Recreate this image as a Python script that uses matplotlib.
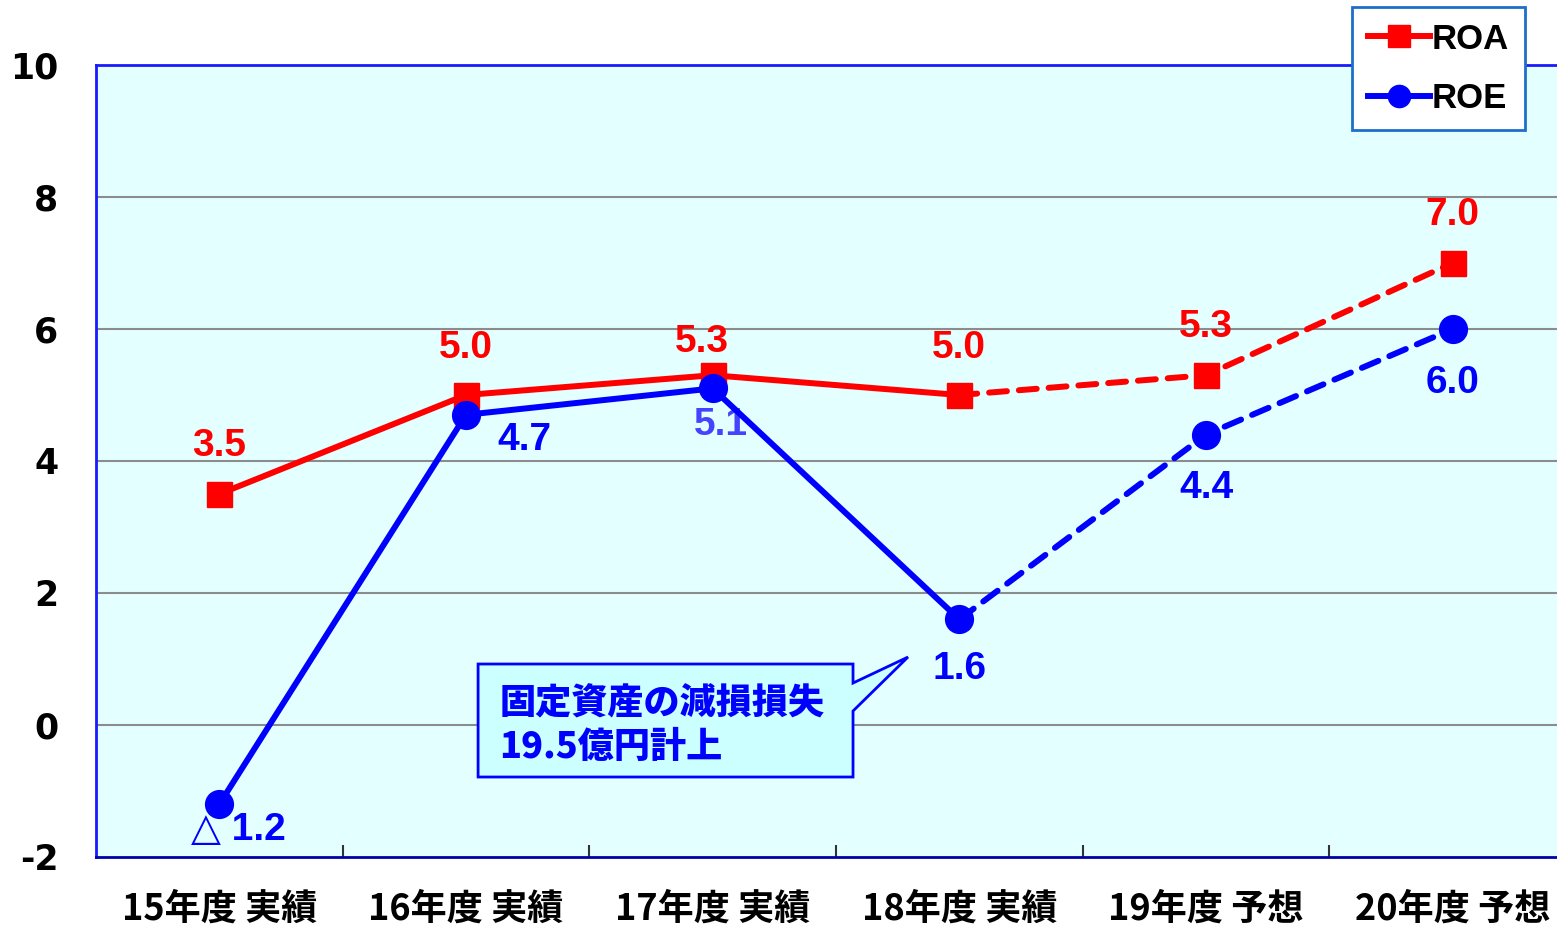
import matplotlib
matplotlib.use("Agg")
import matplotlib.pyplot as plt
from matplotlib.patches import Polygon

categories = ["15年度 実績", "16年度 実績", "17年度 実績", "18年度 実績", "19年度 予想", "20年度 予想"]
roa = [3.5, 5.0, 5.3, 5.0, 5.3, 7.0]
roe = [-1.2, 4.7, 5.1, 1.6, 4.4, 6.0]
roa_labels = ["3.5", "5.0", "5.3", "5.0", "5.3", "7.0"]
roe_labels = ["△ 1.2", "4.7", "5.1", "1.6", "4.4", "6.0"]
n_actual = 4  # 実績 points; the rest are 予想 (dashed)
note_lines = ["固定資産の減損損失", "19.5億円計上"]

RED = "#ff0000"
BLUE = "#0000ff"
NUM_FONT = ["Liberation Sans", "DejaVu Sans"]
JP_FONT = ["Noto Sans CJK JP", "DejaVu Sans"]

plt.rcParams["font.family"] = JP_FONT

fig = plt.figure(figsize=(15.57, 9.26), dpi=100)
ax = fig.add_axes([96 / 1557, 69 / 926, 1480 / 1557, 792 / 926])
ax.set_facecolor("#e3ffff")

x = list(range(len(categories)))
k = n_actual - 1

# solid = actual, dashed = forecast
ax.plot(x[:k + 1], roa[:k + 1], color=RED, lw=4.3, solid_capstyle="round", zorder=3)
ax.plot(x[k:], roa[k:], color=RED, lw=4.3, ls=(0, (3, 2)), dash_capstyle="round", zorder=3)
ax.plot(x, roa, ls="none", marker="s", ms=18, color=RED, zorder=4)

ax.plot(x[:k + 1], roe[:k + 1], color=BLUE, lw=4.3, solid_capstyle="round", zorder=3)
ax.plot(x[k:], roe[k:], color=BLUE, lw=4.3, ls=(0, (3, 2)), dash_capstyle="round", zorder=3)
ax.plot(x, roe, ls="none", marker="o", ms=20, color=BLUE, zorder=4)

# legend proxies
ax.plot([], [], color=RED, lw=4.3, marker="s", ms=16, label="ROA")
ax.plot([], [], color=BLUE, lw=4.3, marker="o", ms=16, label="ROE")

roa_off = [(0, 48), (0, 47), (-11, 33), (0, 47), (0, 48), (0, 48)]
roe_off = [(19, -26), (58, -25), (8, -37), (0, -50), (0, -53), (0, -54)]
roe_col = [BLUE, BLUE, "#4444ff", BLUE, BLUE, BLUE]

for i in x:
    ax.annotate(roa_labels[i], (x[i], roa[i]), xytext=roa_off[i], textcoords="offset pixels",
                ha="center", va="center", color=RED, fontsize=28, fontweight="bold",
                family=NUM_FONT, zorder=2)
    ax.annotate(roe_labels[i], (x[i], roe[i]), xytext=roe_off[i], textcoords="offset pixels",
                ha="center", va="center", color=roe_col[i], fontsize=28, fontweight="bold",
                family=NUM_FONT, zorder=2)

# callout box
callout = Polygon([(1.049, 0.924), (2.569, 0.924), (2.569, 0.636), (2.792, 1.030),
                   (2.569, 0.212), (2.569, -0.788), (1.049, -0.788)],
                  closed=True, facecolor="#ccffff", edgecolor=BLUE, lw=2, zorder=5)
ax.add_patch(callout)
ax.text(1.135, 0.33, note_lines[0], color=BLUE, fontsize=26, fontweight="heavy",
        va="center", ha="left", zorder=6)
ax.text(1.135, -0.33, note_lines[1], color=BLUE, fontsize=26, fontweight="heavy",
        va="center", ha="left", zorder=6)

ax.set_xlim(-0.5, len(categories) - 0.5)
ax.set_ylim(-2, 10)
ax.set_yticks(range(-2, 11, 2))
ax.set_yticklabels([str(v) for v in range(-2, 11, 2)], fontsize=25, fontweight="heavy",
                   family=["DejaVu Sans"])
ax.tick_params(axis="y", length=0, pad=27)
ax.set_xticks(x)
ax.set_xticklabels(categories, fontsize=26, fontweight="bold")
ax.tick_params(axis="x", length=0, pad=24)
ax.set_xticks([i + 0.5 for i in x[:-1]], minor=True)
ax.tick_params(axis="x", which="minor", direction="in", length=9, width=1.5, color="#333333")

for v in range(0, 9, 2):
    ax.axhline(v, color="#8c8c8c", lw=1.5, zorder=1)

for side in ["left", "top", "bottom"]:
    ax.spines[side].set_color("#1a1aff")
    ax.spines[side].set_linewidth(2)
ax.spines["bottom"].set_color("#0000aa")
ax.spines["right"].set_visible(False)

leg = fig.legend(loc="upper right", bbox_to_anchor=(1525 / 1557, 1 - 7 / 926),
                 prop={"family": NUM_FONT, "weight": "bold", "size": 25},
                 frameon=True, fancybox=False, handlelength=1.8, handletextpad=0.05,
                 labelspacing=0.75, borderpad=0.45, borderaxespad=0)
leg.get_frame().set_edgecolor("#1e6fc8")
leg.get_frame().set_linewidth(2)
leg.get_frame().set_facecolor("white")
leg.get_frame().set_alpha(1)

fig.savefig("out.png", dpi=100, facecolor="white")
